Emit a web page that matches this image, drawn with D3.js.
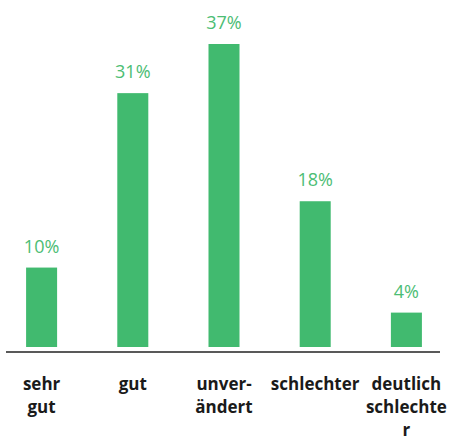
<!DOCTYPE html>
<meta charset="utf-8">
<script src="https://d3js.org/d3.v7.min.js"></script>
<style>
    body { margin: 0; background: #fff; }
    .bar { fill: #41BA6F; }
    .value_label {
        font-family: "Open Sans", sans-serif;
        font-size: 18px;
        fill: #4CBD74;
        text-anchor: middle;
    }
    .cat_label {
        font-family: "Open Sans", sans-serif;
        font-weight: bold;
        font-size: 17px;
        fill: #1a1a1a;
        text-anchor: middle;
    }
    .baseline { stroke: #595959; stroke-width: 2.2; }
</style>
<div id="chart"></div>
<script>
// categories (wrapped the way the picture shows them)
const categories = ["sehr gut", "gut", "unverändert", "schlechter", "deutlich schlechter"];
const categoryLines = [["sehr", "gut"], ["gut"], ["unver-", "ändert"], ["schlechter"], ["deutlich", "schlechte", "r"]];
// shares in percent
const values = [9.7, 31, 37, 17.8, 4.2];
const valueLabels = ["10%", "31%", "37%", "18%", "4%"];

const width = 449, height = 441;

const svg = d3.select("#chart").append("svg")
    .attr("width", width)
    .attr("height", height);

const x = d3.scaleBand()
    .domain(categories)
    .range([-4, 452])
    .paddingInner(0.66)
    .paddingOuter(0.33);

const y = d3.scaleLinear()
    .domain([0, 37])
    .range([347, 44]);

svg.selectAll(".bar")
    .data(values)
    .enter().append("rect")
    .attr("class", "bar")
    .attr("x", (d, i) => x(categories[i]))
    .attr("width", x.bandwidth())
    .attr("y", d => y(d))
    .attr("height", d => y(0) - y(d));

svg.selectAll(".value_label")
    .data(values)
    .enter().append("text")
    .attr("class", "value_label")
    .attr("x", (d, i) => x(categories[i]) + x.bandwidth() / 2)
    .attr("y", d => y(d) - 15)
    .text((d, i) => valueLabels[i]);

svg.append("line")
    .attr("class", "baseline")
    .attr("x1", 6).attr("x2", 440)
    .attr("y1", 352).attr("y2", 352);

const cat = svg.selectAll(".cat_label")
    .data(categories)
    .enter().append("text")
    .attr("class", "cat_label")
    .attr("x", d => x(d) + x.bandwidth() / 2)
    .attr("y", 390);

cat.selectAll("tspan")
    .data((d, i) => categoryLines[i])
    .enter().append("tspan")
    .attr("x", function() { return this.parentNode.getAttribute("x"); })
    .attr("dy", (d, i) => i === 0 ? 0 : 23)
    .text(d => d);
</script>
